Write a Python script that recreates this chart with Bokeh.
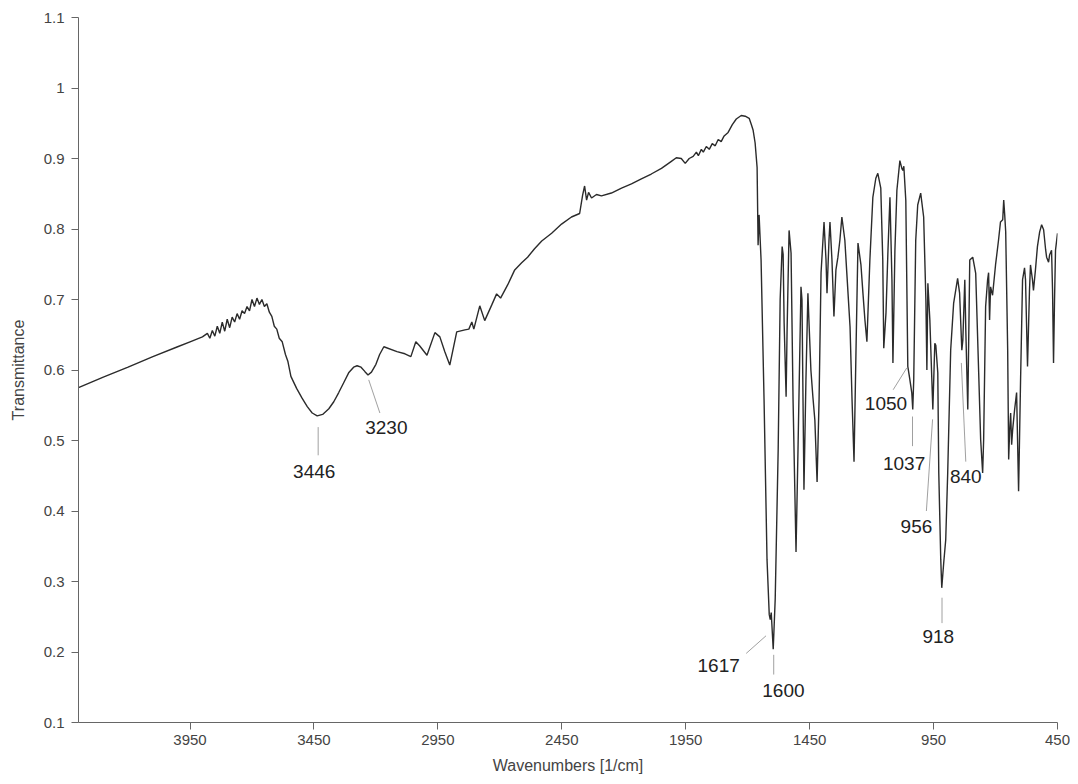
from bokeh.embed import file_html
from bokeh.resources import INLINE
from bokeh.plotting import figure
from bokeh.models import ColumnDataSource, Range1d, FixedTicker, PrintfTickFormatter
from bokeh.core.properties import value

# IR spectrum: wavenumber [1/cm] and transmittance
wavenumber = [
    4400, 4300, 4200, 4100, 4000, 3950, 3900,
    3880, 3870, 3860, 3850, 3840, 3830, 3820, 3810, 3800, 3790, 3780, 3770,
    3760, 3750, 3740, 3730, 3720, 3710, 3700, 3690, 3680, 3670, 3660, 3650,
    3640, 3630, 3620, 3610, 3600, 3590, 3578, 3565, 3555, 3543, 3520, 3498,
    3477, 3457, 3437, 3415, 3390, 3370, 3350, 3330, 3310, 3290, 3276, 3260,
    3245, 3232, 3218, 3200, 3185,
    3168, 3115, 3083, 3059, 3039, 3023, 2994, 2962, 2942, 2922, 2902,
    2874, 2841, 2825, 2813, 2805, 2781, 2761, 2733, 2713, 2697, 2668, 2640,
    2612, 2588, 2560, 2531, 2491, 2451, 2411, 2378, 2366, 2358, 2350, 2342,
    2330, 2310, 2290, 2250, 2209, 2169, 2129, 2089, 2048, 2008, 1988, 1968,
    1952, 1936, 1920, 1907, 1899, 1887, 1879, 1867, 1855, 1843, 1831, 1819,
    1807, 1795, 1779, 1762, 1746, 1726, 1710, 1694, 1686, 1678, 1670, 1662,
    1658, 1654, 1646, 1634, 1622, 1613, 1609, 1605, 1597, 1589, 1577, 1569,
    1561, 1557, 1553, 1545, 1541, 1533, 1525, 1517, 1505, 1497, 1485, 1481,
    1473, 1465, 1457, 1453, 1445, 1437, 1429, 1420, 1412, 1404, 1392, 1384,
    1380, 1372, 1368, 1360, 1352, 1344, 1336, 1328, 1320, 1308, 1300, 1287,
    1279, 1271, 1263, 1255, 1243, 1235, 1227, 1219, 1207, 1195, 1183, 1175,
    1163, 1155, 1151, 1142, 1134, 1126, 1118, 1114, 1106, 1098, 1086, 1078,
    1074, 1070, 1062, 1054, 1046, 1038, 1034, 1030, 1022, 1014, 1002, 990,
    981, 977, 973, 965, 961, 953, 945, 941, 933, 929, 921, 917, 909, 901,
    893, 881, 869, 853, 845, 836, 832, 824, 820, 812, 804, 792, 780, 768,
    760, 752, 748, 740, 732, 728, 724, 720, 712, 700, 688, 680, 671, 667,
    663, 659, 651, 647, 643, 639, 635, 631, 623, 615, 607, 599, 591, 583,
    579, 571, 563, 559, 551, 547, 539, 531, 522, 514, 506, 498, 494, 486,
    482, 474, 470, 466, 462, 458, 450,
]
transmittance = [
    0.575, 0.590, 0.604, 0.619, 0.633, 0.640, 0.647,
    0.652, 0.645, 0.656, 0.648, 0.662, 0.652, 0.668, 0.655, 0.672, 0.660, 0.675, 0.668,
    0.680, 0.672, 0.684, 0.680, 0.690, 0.684, 0.700, 0.690, 0.702, 0.693, 0.700, 0.690,
    0.694, 0.682, 0.676, 0.662, 0.658, 0.645, 0.640, 0.622, 0.612, 0.591, 0.574, 0.560,
    0.548, 0.539, 0.535, 0.537, 0.545, 0.555, 0.568, 0.582, 0.596, 0.604, 0.606, 0.604,
    0.598, 0.593, 0.597, 0.608, 0.622,
    0.633, 0.626, 0.623, 0.619, 0.640, 0.634, 0.621, 0.653, 0.647, 0.626, 0.607,
    0.654, 0.657, 0.658, 0.668, 0.658, 0.691, 0.670, 0.692, 0.708, 0.702, 0.721, 0.742,
    0.752, 0.760, 0.772, 0.783, 0.794, 0.807, 0.817, 0.822, 0.848, 0.861, 0.841, 0.852,
    0.844, 0.849, 0.847, 0.851, 0.858, 0.864, 0.871, 0.878, 0.886, 0.896, 0.901, 0.900,
    0.893, 0.900, 0.903, 0.909, 0.904, 0.913, 0.909, 0.917, 0.913, 0.921, 0.918, 0.927,
    0.924, 0.932, 0.937, 0.948, 0.956, 0.961, 0.960, 0.957, 0.949, 0.940, 0.922, 0.887,
    0.777, 0.820, 0.756, 0.558, 0.331, 0.253, 0.246, 0.256, 0.204, 0.275, 0.487, 0.700,
    0.775, 0.764, 0.667, 0.562, 0.657, 0.798, 0.766, 0.558, 0.342, 0.487, 0.718, 0.700,
    0.430, 0.586, 0.709, 0.671, 0.600, 0.562, 0.529, 0.441, 0.558, 0.738, 0.810, 0.756,
    0.709, 0.784, 0.810, 0.756, 0.676, 0.742, 0.760, 0.784, 0.817, 0.784, 0.737, 0.661,
    0.558, 0.470, 0.628, 0.780, 0.749, 0.709, 0.671, 0.640, 0.756, 0.845, 0.872, 0.879,
    0.858, 0.756, 0.631, 0.681, 0.770, 0.845, 0.728, 0.610, 0.770, 0.855, 0.897, 0.886,
    0.883, 0.889, 0.840, 0.605, 0.587, 0.568, 0.544, 0.587, 0.784, 0.834, 0.851, 0.817,
    0.699, 0.600, 0.723, 0.671, 0.628, 0.544, 0.638, 0.635, 0.596, 0.454, 0.331, 0.291, 0.327, 0.359,
    0.454, 0.628, 0.695, 0.730, 0.709, 0.628, 0.642, 0.728, 0.657, 0.544, 0.756, 0.760, 0.737, 0.596,
    0.501, 0.454, 0.501, 0.690, 0.728, 0.738, 0.671, 0.718, 0.706, 0.749, 0.784, 0.810, 0.813, 0.841,
    0.820, 0.796, 0.628, 0.473, 0.515, 0.539, 0.494, 0.515, 0.544, 0.568, 0.428, 0.586, 0.728, 0.745,
    0.728, 0.605, 0.713, 0.749, 0.728, 0.713, 0.742, 0.775, 0.796, 0.806, 0.799, 0.771, 0.760, 0.753,
    0.763, 0.770, 0.713, 0.610, 0.699, 0.770, 0.794,
]

# peak annotations: label, leader line (from -> to) and text anchor, in data units
peak_labels = ["3446", "3230", "1617", "1600", "918", "1050", "1037", "956", "840"]
line_x0 = [3433, 3229, 1706, 1595, 916, 1113, 1035, 954, 838]
line_y0 = [0.519, 0.586, 0.198, 0.196, 0.277, 0.572, 0.534, 0.530, 0.610]
line_x1 = [3433, 3184, 1626, 1595, 916, 1058, 1035, 979, 820]
line_y1 = [0.479, 0.539, 0.223, 0.168, 0.241, 0.603, 0.492, 0.400, 0.470]
text_x = [3449, 3158, 1817, 1556, 931, 1142, 1069, 1019, 820]
text_y = [0.456, 0.518, 0.181, 0.145, 0.222, 0.552, 0.467, 0.378, 0.449]

x_ticks = [3950, 3450, 2950, 2450, 1950, 1450, 950, 450]
y_ticks = [0.1, 0.2, 0.3, 0.4, 0.5, 0.6, 0.7, 0.8, 0.9, 1.0, 1.1]

FONT = "Liberation Sans"
AXIS_GREY = "#666666"

p = figure(
    width=1070, height=776,
    x_range=Range1d(4400, 450), y_range=Range1d(0.1, 1.1),
    output_backend="svg", toolbar_location=None,
    min_border_left=78, min_border_right=13, min_border_top=17, min_border_bottom=53,
    x_axis_label="Wavenumbers [1/cm]", y_axis_label="Transmittance",
)
p.outline_line_color = None
p.grid.visible = False

p.xaxis.ticker = FixedTicker(ticks=x_ticks)
p.yaxis.ticker = FixedTicker(ticks=y_ticks)
p.yaxis.formatter = PrintfTickFormatter(format="%g")

for ax in (p.xaxis, p.yaxis):
    ax.axis_line_color = AXIS_GREY
    ax.major_tick_line_color = AXIS_GREY
    ax.minor_tick_line_color = None
    ax.major_tick_out = 7
    ax.major_tick_in = 0
    ax.major_label_text_font = FONT
    ax.major_label_text_font_size = "15px"
    ax.major_label_text_color = "#444444"
    ax.axis_label_text_font = FONT
    ax.axis_label_text_font_size = "16px"
    ax.axis_label_text_font_style = "normal"
    ax.axis_label_text_color = "#444444"
p.xaxis.major_label_standoff = 5
p.xaxis.axis_label_standoff = 9
p.yaxis.major_label_standoff = 7
p.yaxis.axis_label_standoff = 14

spec = ColumnDataSource(dict(x=wavenumber, y=transmittance))
p.line("x", "y", source=spec, line_color="#2b2b2b", line_width=1.4)

ann = ColumnDataSource(dict(
    label=peak_labels, x0=line_x0, y0=line_y0, x1=line_x1, y1=line_y1,
    tx=text_x, ty=text_y,
))
p.segment("x0", "y0", "x1", "y1", source=ann, line_color="#888888", line_width=0.8)
p.text("tx", "ty", text="label", source=ann, text_align="center", text_baseline="middle",
       text_font=value(FONT), text_font_size="19px", text_color="#222222")

open("out.html", "w").write(file_html(p, INLINE))
